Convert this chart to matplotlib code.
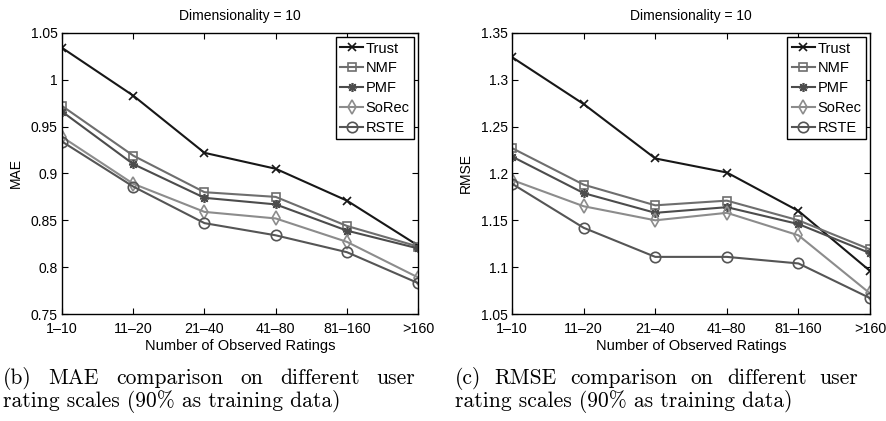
import matplotlib
matplotlib.use("Agg")
import matplotlib.pyplot as plt

# Données
groupes = ["1\u201310", "11\u201320", "21\u201340", "41\u201380", "81\u2013160", ">160"]
methodes = ["Trust", "NMF", "PMF", "SoRec", "RSTE"]

mae_trust = [1.034, 0.983, 0.922, 0.905, 0.871, 0.823]
mae_nmf = [0.972, 0.919, 0.880, 0.875, 0.844, 0.822]
mae_pmf = [0.966, 0.910, 0.874, 0.867, 0.839, 0.820]
mae_sorec = [0.939, 0.889, 0.859, 0.852, 0.827, 0.789]
mae_rste = [0.934, 0.886, 0.847, 0.834, 0.816, 0.783]

rmse_trust = [1.324, 1.274, 1.216, 1.201, 1.160, 1.096]
rmse_nmf = [1.227, 1.188, 1.166, 1.171, 1.150, 1.119]
rmse_pmf = [1.218, 1.179, 1.158, 1.164, 1.146, 1.115]
rmse_sorec = [1.193, 1.165, 1.150, 1.158, 1.134, 1.072]
rmse_rste = [1.189, 1.142, 1.111, 1.111, 1.104, 1.067]

mae_ticks = [0.75, 0.8, 0.85, 0.9, 0.95, 1.0, 1.05]
mae_labels = ["0.75", "0.8", "0.85", "0.9", "0.95", "1", "1.05"]
rmse_ticks = [1.05, 1.1, 1.15, 1.2, 1.25, 1.3, 1.35]
rmse_labels = ["1.05", "1.1", "1.15", "1.2", "1.25", "1.3", "1.35"]

# Styles des courbes (astérisque à 8 branches pour PMF, comme MATLAB)
couleurs = ["#171717", "#6e6e6e", "#4c4c4c", "#8c8c8c", "#555555"]
marqueurs = ["x", "s", (8, 2, 0), "d", "o"]
tailles = [6, 6, 6.5, 7, 7.5]

plt.rcParams['font.family'] = ['Liberation Sans', 'DejaVu Sans']

fig = plt.figure(figsize=(8.86, 4.21), dpi=100)
ax1 = fig.add_axes([0.070, 0.254, 0.402, 0.668])
ax2 = fig.add_axes([0.578, 0.254, 0.404, 0.668])


def trace(ax, series, yticks, ylabels, ylabel):
    x = list(range(len(groupes)))
    for serie, nom, c, m, t in zip(series, methodes, couleurs, marqueurs, tailles):
        ax.plot(x, serie, color=c, marker=m, markersize=t, markerfacecolor='none',
                markeredgecolor=c, markeredgewidth=1.2, linewidth=1.5, label=nom)
    ax.set_xlim(0, len(groupes) - 1)
    ax.set_ylim(yticks[0], yticks[-1])
    ax.set_xticks(x)
    ax.set_xticklabels(groupes, fontsize=10.3)
    ax.set_yticks(yticks)
    ax.set_yticklabels(ylabels, fontsize=10)
    ax.tick_params(direction='in', top=True, right=True, length=4, width=0.8)
    ax.tick_params(axis='x', pad=5.5)
    ax.tick_params(axis='y', pad=3)
    for s in ax.spines.values():
        s.set_linewidth(1.0)
    ax.set_title("Dimensionality = 10", fontsize=10, pad=9)
    ax.set_xlabel("Number of Observed Ratings", fontsize=10.5, labelpad=2.5)
    ax.set_ylabel(ylabel, fontsize=10, labelpad=6)
    leg = ax.legend(loc='upper right', fontsize=10.5, fancybox=False, framealpha=1,
                    edgecolor='black', handlelength=1.6, handletextpad=0.15,
                    borderpad=0.3, labelspacing=0.4, borderaxespad=0.3)
    leg.get_frame().set_linewidth(1.0)


trace(ax1, [mae_trust, mae_nmf, mae_pmf, mae_sorec, mae_rste], mae_ticks, mae_labels, "MAE")
trace(ax2, [rmse_trust, rmse_nmf, rmse_pmf, rmse_sorec, rmse_rste], rmse_ticks, rmse_labels, "RMSE")

# Légendes sous les graphiques (texte justifié sur la première ligne)
captions = [
    ("(b) MAE comparison on different user", "rating scales (90% as training data)", 0.003, 0.469),
    ("(c) RMSE comparison on different user", "rating scales (90% as training data)", 0.513, 0.969),
]
serif = ['cmr10', 'DejaVu Serif']
fig.canvas.draw()
renderer = fig.canvas.get_renderer()
for ligne1, ligne2, x0, x1 in captions:
    mots = ligne1.split()
    textes = [fig.text(0, 0.087, m, fontsize=15.5, family=serif, va='baseline') for m in mots]
    largeurs = [t.get_window_extent(renderer).width / fig.bbox.width for t in textes]
    espace = (x1 - x0 - sum(largeurs)) / (len(mots) - 1)
    pos = x0
    for t, w in zip(textes, largeurs):
        t.set_x(pos)
        pos += w + espace
    fig.text(x0, 0.033, ligne2, fontsize=15.5, family=serif, va='baseline')

fig.savefig("out.png", dpi=100)
